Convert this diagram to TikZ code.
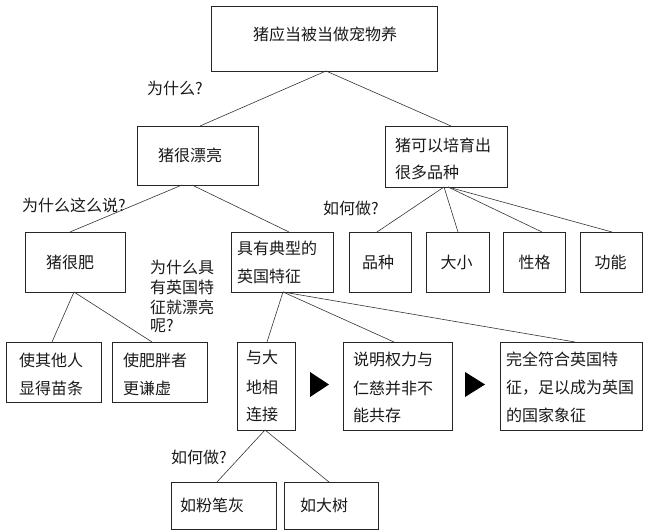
\documentclass[tikz,border=0pt]{standalone}
\usepackage{fontspec}
\newfontfamily\cjk{Noto Sans CJK SC}
\begin{document}
\begin{tikzpicture}[x=1pt,y=-1pt,
  box/.style={draw=black!85, line width=0.8pt, inner sep=0pt, outer sep=0pt},
  lbl/.style={font=\cjk\fontsize{16}{16}\selectfont, inner sep=0pt, anchor=west, text=black!90},
  clbl/.style={lbl, anchor=center},
  link/.style={draw=black!80, line width=0.6pt},
  tri/.style={fill=black}]
\useasboundingbox (0,0) rectangle (650,532);
% boxes
\node[box, minimum width=226, minimum height=65] (top) at (324,38.5) {};
\node[box, minimum width=121, minimum height=59] (pretty) at (197.5,155.5) {};
\node[box, minimum width=122, minimum height=61] (breed) at (446,156.5) {};
\node[box, minimum width=100, minimum height=60] (fat) at (75,262) {};
\node[box, minimum width=102, minimum height=60] (brit) at (282,262) {};
\node[box, minimum width=62, minimum height=60] (pz) at (380,262) {};
\node[box, minimum width=63, minimum height=60] (dx) at (457.5,262) {};
\node[box, minimum width=62, minimum height=60] (xg) at (534,262) {};
\node[box, minimum width=62, minimum height=60] (gn) at (611,262) {};
\node[box, minimum width=95, minimum height=60] (slim) at (53.5,372) {};
\node[box, minimum width=95, minimum height=60] (humble) at (159.5,372) {};
\node[box, minimum width=58, minimum height=88] (earth) at (266,386) {};
\node[box, minimum width=109, minimum height=88] (power) at (397.5,386) {};
\node[box, minimum width=142, minimum height=88] (symbol) at (571,386) {};
\node[box, minimum width=105, minimum height=47] (chalk) at (223.5,505.5) {};
\node[box, minimum width=94, minimum height=47] (tree) at (331,505.5) {};
% texts
\node[clbl] (t1) at (325,34) {猪应当被当做宠物养};
\node[lbl] (q1) at (147,88) {为什么?};
\node[lbl] (t2) at (158,155) {猪很漂亮};
\node[lbl] (t3a) at (395,145) {猪可以培育出};
\node[lbl] (t3b) at (395,172) {很多品种};
\node[lbl] (q2) at (22,205) {为什么这么说?};
\node[lbl] (q3) at (323,208) {如何做?};
\node[clbl] (t4) at (70,262) {猪很肥};
\node[lbl] (q4a) at (150,267) {为什么具};
\node[lbl] (q4b) at (150,287) {有英国特};
\node[lbl] (q4c) at (150,307) {征就漂亮};
\node[lbl] (q4d) at (150,326) {呢?};
\node[lbl] (t5a) at (237,248) {具有典型的};
\node[lbl] (t5b) at (237,276) {英国特征};
\node[clbl] (t6) at (378,262) {品种};
\node[clbl] (t7) at (456.5,262) {大小};
\node[clbl] (t8) at (534.5,262) {性格};
\node[clbl] (t9) at (610.5,262) {功能};
\node[lbl] (t10a) at (19,360) {使其他人};
\node[lbl] (t10b) at (19,388) {显得苗条};
\node[lbl] (t11a) at (123,360) {使肥胖者};
\node[lbl] (t11b) at (123,388) {更谦虚};
\node[lbl] (t12a) at (246,357) {与大};
\node[lbl] (t12b) at (246,387) {地相};
\node[lbl] (t12c) at (246,414) {连接};
\node[lbl] (t13a) at (353,359) {说明权力与};
\node[lbl] (t13b) at (353,388) {仁慈并非不};
\node[lbl] (t13c) at (353,415) {能共存};
\node[lbl] (t14a) at (506,359) {完全符合英国特};
\node[lbl] (t14b) at (506,388) {征，足以成为英国};
\node[lbl] (t14c) at (506,415) {的国家象征};
\node[lbl] (q5) at (171,457) {如何做?};
\node[lbl] (t15) at (180,505) {如粉笔灰};
\node[lbl] (t16) at (300,505) {如大树};
% connectors
\draw[link] ([xshift=2]top.south) -- ([xshift=2.5]pretty.north);
\draw[link] ([xshift=2]top.south) -- ([xshift=5]breed.north);
\draw[link] ([xshift=-15.5]pretty.south) -- ([xshift=-5]fat.north);
\draw[link] ([xshift=-5.5]pretty.south) -- ([xshift=7]brit.north);
\draw[link] ([xshift=-2]breed.south) -- ([xshift=-3]pz.north);
\draw[link] ([xshift=-2]breed.south) -- ([xshift=0.5]dx.north);
\draw[link] ([xshift=2]breed.south) -- ([xshift=8]xg.north);
\draw[link] ([xshift=2]breed.south) -- ([xshift=1]gn.north);
\draw[link] ([xshift=-1]fat.south) -- ([xshift=-1.5]slim.north);
\draw[link] ([xshift=-1]fat.south) -- ([xshift=-7.5]humble.north);
\draw[link] ([xshift=1]brit.south) -- ([xshift=1]earth.north);
\draw[link] ([xshift=1]brit.south) -- ([xshift=-3.5]power.north);
\draw[link] ([xshift=1]brit.south) -- ([xshift=4]symbol.north);
\draw[link] ([xshift=-1]earth.south) -- ([xshift=-6.5]chalk.north);
\draw[link] ([xshift=-1]earth.south) -- ([xshift=-2]tree.north);
% arrow triangles
\fill[tri] (310,372) -- (310,397) -- (329,384.5) -- cycle;
\fill[tri] (465,372) -- (465,397) -- (485,384.5) -- cycle;
\end{tikzpicture}
\end{document}
